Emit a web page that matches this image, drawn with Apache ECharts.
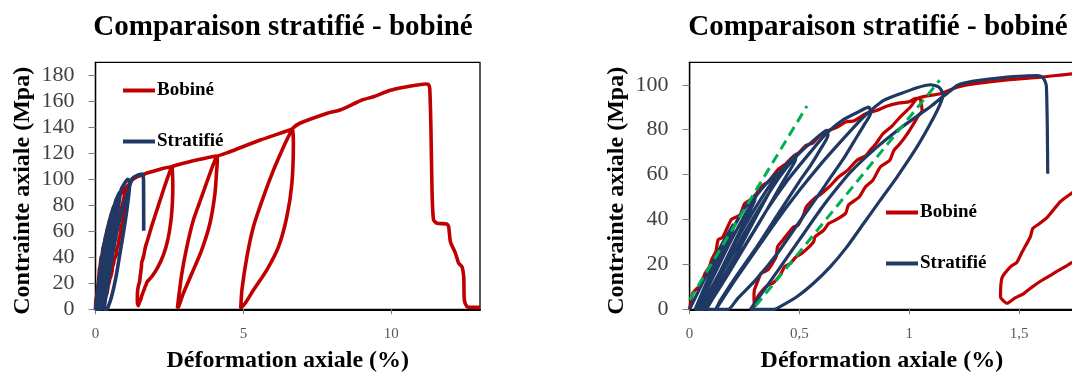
<!DOCTYPE html>
<html><head><meta charset="utf-8">
<script src="https://cdn.jsdelivr.net/npm/echarts@6/dist/echarts.min.js"></script>
<style>html,body{margin:0;padding:0;background:#fff}#c{width:1072px;height:373px}</style>
</head><body><div id="c"></div>
<script>
const titleText = 'Comparaison stratifié - bobiné';
const xName = 'Déformation axiale (%)';
const yName = 'Contrainte axiale (Mpa)';
const seriesNames = ['Bobiné', 'Stratifié'];
const leftXTicks = [0, 5, 10];
const leftYTicks = [0, 20, 40, 60, 80, 100, 120, 140, 160, 180];
const rightXTicks = [0, 0.5, 1, 1.5];
const rightYTicks = [0, 20, 40, 60, 80, 100];

// Bobiné : [déformation %, contrainte MPa]
const bobine = [
  [0,0],[0.014,7.1],[0.03,9],[0.05,10.5],[0.07,16],[0.09,19],[0.1,22],[0.12,26],[0.13,31],[0.15,32],[0.17,36],[0.19,40],[0.21,41],[0.23,42],[0.25,47],[0.28,49],[0.3,51],[0.33,55],[0.36,57],[0.4,62],[0.44,65],[0.47,68],[0.5,70],[0.53,73],[0.56,74],[0.59,77],[0.63,79.5],[0.67,81],[0.71,83.4],[0.75,84],[0.8,87],[0.85,88.5],[0.9,90.5],[0.95,91.8],[1.0,92.5],[1.03,94],[1.05,93.5],
  [1.058,88.4],[1.04,86],[1.02,82.7],[0.99,78],[0.958,73.8],[0.93,70.8],[0.911,66.4],[0.868,63.4],[0.834,57.5],[0.8,54.5],[0.772,50],[0.723,46.4],[0.71,42.7],[0.663,39.7],[0.633,38.2],[0.61,35.2],[0.571,32.3],[0.564,30],[0.511,24.9],[0.485,23.4],[0.458,20.4],[0.432,18.9],[0.412,15.2],[0.379,11.6],[0.36,11],[0.333,8.6],[0.31,5.6],[0.3,2.7],[0.295,1.2],
  [0.293,5.6],[0.295,8.6],[0.318,14.5],[0.324,16],[0.356,17.5],[0.394,23.4],[0.4,27.8],[0.424,30.8],[0.473,36.7],[0.494,37.5],[0.518,41.9],[0.531,45.6],[0.576,50],[0.594,51],[0.64,55],[0.678,58.9],[0.72,62],[0.762,66.4],[0.803,68.5],[0.822,70.8],[0.85,74],[0.88,78.2],[0.92,81.5],[0.958,85.6],[1.004,90],[1.035,93.8],
  [1.08,95],[1.141,96],[1.217,98.9],[1.293,100.4],[1.445,102.2],[1.597,103.4],[1.743,104.9],[2.07,107],[2.3,108.5],[2.58,109.7],
  [2.6,106],[2.615,95],[2.6,82],[2.55,68],[2.45,54],[2.3,42],[2.1,32],[1.9,25],[1.743,21],[1.71,19],[1.673,17],[1.64,15],[1.597,12.5],[1.56,10],[1.521,7],[1.48,5],[1.445,2.7],
  [1.415,5.6],[1.422,14],[1.46,18.9],[1.49,21],[1.51,24.9],[1.551,32.3],[1.562,36],[1.59,38],[1.63,41.2],[1.688,48],[1.743,52],[1.9,64],[2.1,78],[2.3,92],[2.45,102],[2.55,108],[2.58,109.7],
  [2.75,111],[3.42,114.8],[4.1,117.9],
  [4.12,114],[4.1,108],[4.04,89.2],[3.87,66.2],[3.59,45.6],[3.26,27.7],[2.97,12.3],[2.81,2],[2.77,0.8],
  [2.8,7.2],[2.92,27.7],[3.09,48.2],[3.31,68.7],[3.59,86.6],[3.87,104.6],[4.04,114.8],[4.1,117.5],
  [4.55,121.2],[5.57,130.2],[6.64,138.5],[6.67,139.2],
  [6.69,127.7],[6.64,96.9],[6.47,71.2],[6.19,48.2],[5.79,30.2],[5.34,14.8],[5.06,4.6],[4.91,0.8],
  [4.95,14.8],[5.12,40.5],[5.34,63.5],[5.68,86.6],[6.02,107.2],[6.36,125.1],[6.58,135.4],[6.67,139.2],
  [6.91,143.1],[7.84,150.8],[8.27,153.3],[9.01,161],[9.4,163.5],[9.94,168.3],[10.53,171.2],[11.15,173.3],[11.25,173],[11.3,170],[11.34,140.5],[11.38,89.2],[11.43,68.7],[11.55,66.2],[11.88,65.6],[11.94,63.5],[12.0,52],[12.17,43.1],[12.28,35.4],[12.39,32.8],[12.45,25.1],[12.47,7.2],[12.56,2],[12.67,1.5],[13,1.5]
];

// Stratifié : [déformation %, contrainte MPa]
const stratifie = [
  [0,0],[0.05,10],[0.1,20],[0.15,29.5],[0.2,38],
  [0.195,35],[0.16,27],[0.12,18],[0.08,9],[0.045,2],[0.035,0],[0.025,0],
  [0.06,8],[0.1,17],[0.15,27],[0.2,36.5],[0.25,45],[0.3,51],
  [0.295,48],[0.25,39],[0.2,29],[0.15,19],[0.1,9],[0.06,2],[0.045,0],[0.035,0],
  [0.07,7],[0.12,17],[0.18,29],[0.24,40],[0.3,50],[0.35,56],[0.4,61],
  [0.395,58],[0.34,48],[0.28,37],[0.21,24],[0.14,12],[0.08,3],[0.055,0],[0.045,0],
  [0.08,6],[0.14,17],[0.21,30],[0.28,42],[0.35,53],[0.41,61],[0.45,65.5],[0.485,69],
  [0.48,66],[0.42,56],[0.35,44],[0.27,31],[0.19,18],[0.12,7],[0.075,0.5],[0.065,0],[0.05,0],
  [0.1,8],[0.17,20],[0.25,34],[0.33,47],[0.41,59],[0.47,66.5],[0.52,71.5],[0.55,74],[0.625,79.7],
  [0.63,77.5],[0.6,72],[0.55,64],[0.5,57],[0.4,42],[0.3,27],[0.2,13],[0.14,4],[0.115,0],[0.076,0],
  [0.15,12],[0.25,28],[0.35,44],[0.45,58],[0.55,70],[0.61,77],[0.66,81.5],[0.7,84.5],[0.77,88],[0.815,90],
  [0.825,87.5],[0.8,83],[0.75,75],[0.7,67],[0.65,60],[0.602,53],[0.5,39],[0.4,25],[0.3,13],[0.22,5],[0.176,0],[0.12,0],
  [0.2,12],[0.3,26],[0.4,40],[0.5,53],[0.6,65],[0.7,76],[0.78,84.5],[0.83,89],[0.883,93],[0.959,96],[1.035,98.7],[1.096,100],
  [1.134,99],[1.153,96],[1.141,91.5],[1.096,82.7],[1.035,72.3],[0.944,58.9],[0.868,48.6],[0.792,38.2],[0.716,27.8],[0.64,18.9],[0.564,11.6],[0.488,5.6],[0.412,1.2],[0.385,0],[0.277,0],
  [0.4,17],[0.5,31],[0.6,45],[0.663,53],[0.731,61],[0.85,72],[0.95,80],[1.035,86],[1.1,90.5],[1.15,94.5],[1.19,97.5],[1.217,99.7],[1.293,101.6],[1.445,103.4],[1.52,103.9],[1.582,104.1],[1.605,103.4],[1.618,101.5],[1.624,99],[1.628,81.2],[1.63,60.4]
];

// droites de pente (tirets verts)
const pente1 = [[0,4.2],[0.534,90.5]];
const pente2 = [[0.3,1.5],[1.138,102]];

const RED = '#C00000', BLUE = '#1F3864', GREEN = '#00B050';
const FONT = 'Liberation Serif';

function xAxisOf(grid, max, ticks, fmt) {
  return {
    gridIndex: grid, type: 'value', min: 0, max: max,
    axisLine: {show: true, onZero: false, lineStyle: {color: '#000', width: 2}},
    axisTick: {show: true, customValues: ticks, length: 5, lineStyle: {color: '#7f7f7f', width: 1}},
    axisLabel: {customValues: ticks, margin: 17, fontFamily: FONT, fontSize: 15, color: '#595959', formatter: fmt},
    splitLine: {show: false},
    name: xName, nameLocation: 'middle', nameGap: 39,
    nameTextStyle: {fontFamily: FONT, fontWeight: 'bold', fontSize: 24, color: '#000'}
  };
}
function yAxisOf(grid, max, ticks) {
  return {
    gridIndex: grid, type: 'value', min: 0, max: max,
    axisLine: {show: true, lineStyle: {color: '#000', width: 1.3}},
    axisTick: {show: true, customValues: ticks, length: 7, lineStyle: {color: '#7f7f7f', width: 1}},
    axisLabel: {customValues: ticks, margin: 21, fontFamily: FONT, fontSize: 22, color: '#404040'},
    splitLine: {show: false},
    name: yName, nameLocation: 'middle', nameGap: 61, nameRotate: 90,
    nameTextStyle: {fontFamily: FONT, fontWeight: 'bold', fontSize: 24, color: '#000', padding: [0, 10, 0, 0]}
  };
}
function lineSeries(name, data, color, axis, z, w) {
  return {
    name: name, type: 'line', data: data, xAxisIndex: axis, yAxisIndex: axis,
    showSymbol: false, symbol: 'none', smooth: 0.2, clip: true, z: z,
    lineStyle: {color: color, width: w}, itemStyle: {color: color}
  };
}
function legendOf(left, top) {
  return {
    left: left, top: top, orient: 'vertical', icon: 'rect', itemWidth: 32, itemHeight: 4,
    itemGap: 32, selectedMode: false, data: seriesNames, padding: 0,
    textStyle: {fontFamily: FONT, fontWeight: 'bold', fontSize: 19, color: '#000', padding: [0, 0, 0, -3]}
  };
}
function gridOf(left) {
  return {left: left, top: 62.3, width: 384.5, height: 247, show: true, borderColor: '#000', borderWidth: 1.3,
          containLabel: false, outerBoundsMode: 'none'};
}

const chart = echarts.init(document.getElementById('c'), null, {renderer: 'canvas'});
chart.setOption({
  animation: false,
  backgroundColor: '#fff',
  title: [
    {text: titleText, left: 283, top: 13, textAlign: 'center', padding: 0,
     textStyle: {fontFamily: FONT, fontWeight: 'bold', fontSize: 29, color: '#000'}},
    {text: titleText, left: 878, top: 13, textAlign: 'center', padding: 0,
     textStyle: {fontFamily: FONT, fontWeight: 'bold', fontSize: 29, color: '#000'}}
  ],
  legend: [legendOf(123, 81), legendOf(886, 203)],
  grid: [gridOf(95.5), gridOf(689.6)],
  xAxis: [
    xAxisOf(0, 13, leftXTicks, v => String(v)),
    xAxisOf(1, 1.75, rightXTicks, v => String(v).replace('.', ','))
  ],
  yAxis: [
    yAxisOf(0, 190, leftYTicks),
    yAxisOf(1, 110, rightYTicks)
  ],
  series: [
    lineSeries('Bobiné', bobine, RED, 0, 2, 3.6),
    lineSeries('Stratifié', stratifie, BLUE, 0, 3, 3.6),
    lineSeries('Bobiné', bobine, RED, 1, 2, 3.2),
    lineSeries('Stratifié', stratifie, BLUE, 1, 3, 3.2),
    {name: 'pente1', type: 'line', data: pente1, xAxisIndex: 1, yAxisIndex: 1, showSymbol: false, symbol: 'none', z: 4,
     lineStyle: {color: GREEN, width: 3, type: [10, 6]}},
    {name: 'pente2', type: 'line', data: pente2, xAxisIndex: 1, yAxisIndex: 1, showSymbol: false, symbol: 'none', z: 4,
     lineStyle: {color: GREEN, width: 3, type: [10, 6]}}
  ]
});
</script></body></html>
